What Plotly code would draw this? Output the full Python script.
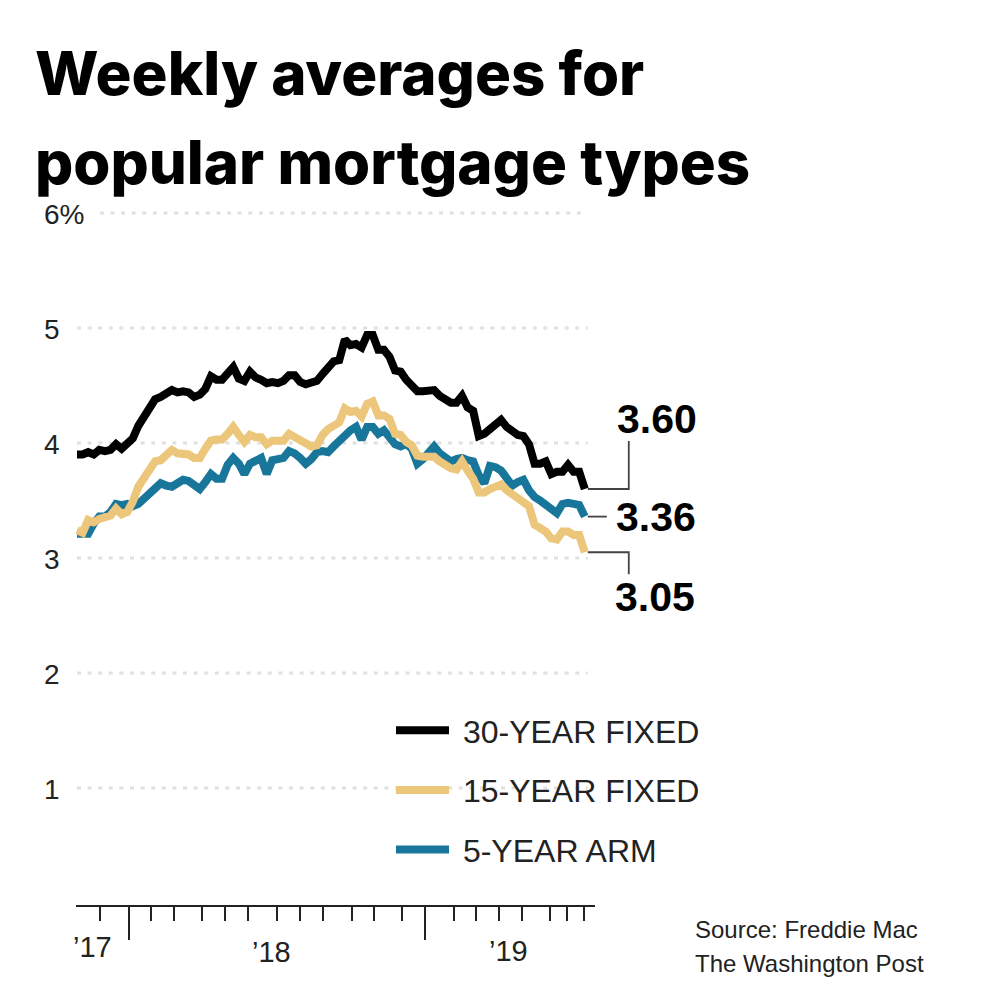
import plotly.graph_objects as go

fixed_30 = [3.90,3.90,3.92,3.90,3.94,3.93,3.94,3.99,3.95,3.99,4.04,4.15,4.22,4.32,4.38,4.40,4.43,4.46,4.44,4.45,4.44,4.40,4.42,4.47,4.58,4.55,4.55,4.61,4.66,4.56,4.54,4.62,4.57,4.55,4.52,4.53,4.52,4.54,4.59,4.59,4.53,4.51,4.52,4.54,4.60,4.65,4.71,4.72,4.90,4.85,4.86,4.83,4.94,4.94,4.81,4.81,4.75,4.63,4.62,4.55,4.51,4.45,4.45,4.45,4.46,4.41,4.37,4.35,4.35,4.41,4.31,4.28,4.06,4.08,4.12,4.17,4.20,4.14,4.10,4.07,4.06,3.99,3.82,3.82,3.84,3.73,3.75,3.75,3.81,3.75,3.75,3.60]
fixed_15 = [3.24,3.22,3.33,3.31,3.34,3.36,3.37,3.43,3.38,3.40,3.49,3.62,3.70,3.79,3.84,3.85,3.89,3.94,3.91,3.91,3.90,3.87,3.87,3.95,4.02,4.03,4.03,4.08,4.14,4.07,4.01,4.07,4.05,4.05,3.99,4.02,4.02,4.02,4.08,4.05,4.02,3.99,3.97,3.98,4.07,4.12,4.16,4.18,4.30,4.27,4.28,4.23,4.34,4.36,4.24,4.24,4.21,4.08,4.07,4.01,3.98,3.89,3.88,3.88,3.88,3.84,3.80,3.78,3.77,3.84,3.76,3.69,3.57,3.57,3.60,3.63,3.64,3.59,3.55,3.52,3.49,3.45,3.29,3.26,3.23,3.17,3.16,3.23,3.23,3.20,3.20,3.05]
arm_5 = [3.21,3.21,3.21,3.30,3.36,3.36,3.40,3.47,3.46,3.47,3.45,3.47,3.52,3.56,3.62,3.65,3.63,3.62,3.65,3.68,3.67,3.63,3.60,3.66,3.73,3.69,3.69,3.81,3.87,3.82,3.73,3.82,3.84,3.87,3.73,3.85,3.86,3.87,3.93,3.91,3.87,3.82,3.86,3.92,3.93,3.92,3.97,4.02,4.07,4.11,4.14,4.03,4.14,4.14,4.08,4.11,4.05,3.99,3.97,3.99,3.95,3.82,3.86,3.92,3.97,3.91,3.87,3.84,3.86,3.87,3.85,3.84,3.72,3.65,3.80,3.79,3.76,3.68,3.63,3.66,3.68,3.59,3.53,3.50,3.47,3.43,3.39,3.47,3.48,3.47,3.46,3.36]
series_names = ["30-YEAR FIXED", "15-YEAR FIXED", "5-YEAR ARM"]
end_labels = ["3.60", "3.36", "3.05"]
y_ticks = [1, 2, 3, 4, 5, 6]
y_tick_labels = ["1", "2", "3", "4", "5", "6%"]
minor_tick_weeks = [0,4.1,13.3,17.4,22.4,26.5,30.6,35.8,40,44.1,49.3,53.2,58.3,67.6,71.5,75.6,79.7,84.8,87.8,90.9]
major_tick_weeks = [9.3,62.4]
year_labels = ["’17", "’18", "’19"]
year_label_weeks = [2.7, 34.8, 77.3]
title_lines = ["Weekly averages for", "popular mortgage types"]
source_lines = ["Source: Freddie Mac", "The Washington Post"]

BLACK, GOLD, BLUE = "#000000", "#ecc67a", "#19769b"
TEXT_FONT = "Liberation Sans"
PAGE_INSET = 8
L, R, T, B = 76, 595, 190, 905
X0_PX, PX_PER_WEEK = 77, 5.58
def px(x): return (x - L) / (R - L)
def py(y): return (B - y) / (B - T)

weeks = list(range(len(fixed_30)))
fig = go.Figure()

for v in y_ticks:
    start = 4.1 if v == 6 else 0
    fig.add_trace(go.Scatter(x=[start, weeks[-1] + 0.5], y=[v, v], mode="lines", showlegend=False, hoverinfo="skip",
                             line=dict(color="#e0e0e0", width=3.2, dash="4px,6.6px")))

for name, vals, col, rank in [(series_names[0], fixed_30, BLACK, 1),
                              (series_names[2], arm_5, BLUE, 3),
                              (series_names[1], fixed_15, GOLD, 2)]:
    fig.add_trace(go.Scatter(x=weeks, y=vals, name="\u00a0" + name, mode="lines", legendgroup=name, legendrank=rank,
                             line=dict(color=col, width=8)))

shapes = []
end_x = px(X0_PX + PX_PER_WEEK * weeks[-1])
leaders = [(fixed_30[-1], "M 3 0 H 44 V 48"), (arm_5[-1], "M 3 0 H 22"), (fixed_15[-1], "M 3 0 H 44 V -22")]
for v, path in leaders:
    shapes.append(dict(type="path", xref="paper", yref="y", xsizemode="pixel", ysizemode="pixel",
                       xanchor=end_x, yanchor=v, path=path, line=dict(color="#444444", width=1.8)))

ann = []
for line, (x, y) in zip(title_lines, [(33, 73), (33, 162)]):
    ann.append(dict(text=line, x=px(x), y=py(y), xanchor="left", yanchor="middle", showarrow=False,
                    xref="paper", yref="paper", font=dict(family="Inter", size=60, weight=800, color="#000")))
for txt, (x, y) in zip(end_labels, [(657, 419), (656, 517), (655, 597)]):
    ann.append(dict(text=txt, x=px(x), y=py(y), xanchor="center", yanchor="middle", showarrow=False,
                    xref="paper", yref="paper", font=dict(family=TEXT_FONT, size=41, weight=700, color="#000")))
for txt, w, y in zip(year_labels, year_label_weeks, [947, 952, 951]):
    ann.append(dict(text=txt, x=w, y=py(y), xref="x", yref="paper", xanchor="center", yanchor="middle",
                    showarrow=False, font=dict(family=TEXT_FONT, size=29, color="#222")))
for line, y in zip(source_lines, [929, 963]):
    ann.append(dict(text=line, x=px(693), y=py(y), xanchor="left", yanchor="middle", showarrow=False,
                    xref="paper", yref="paper", font=dict(family=TEXT_FONT, size=24, color="#222")))

fig.update_layout(
    width=1000 - PAGE_INSET, height=1000 - PAGE_INSET, paper_bgcolor="white", plot_bgcolor="white",
    margin=dict(l=L - PAGE_INSET, r=1000 - R, t=T - PAGE_INSET, b=1000 - B, autoexpand=False),
    hovermode=False, shapes=shapes, annotations=ann,
    legend=dict(x=px(391), y=py(703), xanchor="left", yanchor="top", itemwidth=53, tracegroupgap=15,
                font=dict(family=TEXT_FONT, size=32, color="#222"), bgcolor="rgba(0,0,0,0)"),
    xaxis=dict(range=[(L - X0_PX) / PX_PER_WEEK, (R - X0_PX) / PX_PER_WEEK], showgrid=False, zeroline=False,
               showline=True, linecolor="#222", linewidth=2, ticks="outside", ticklen=33, tickwidth=2, tickcolor="#222",
               tickmode="array", tickvals=major_tick_weeks, showticklabels=False,
               minor=dict(tickmode="array", tickvals=minor_tick_weeks, ticks="outside", ticklen=14, tickwidth=2, tickcolor="#222", showgrid=False)),
    yaxis=dict(range=[(903 - B) / 115, (903 - T) / 115], showgrid=False, zeroline=False, showline=False,
               tickmode="array", tickvals=y_ticks, ticktext=y_tick_labels, ticks="",
               ticklabelposition="inside", ticklabelstandoff=-35, ticklabelshift=1,
               tickfont=dict(family=TEXT_FONT, size=28, color="#222")),
)
fig.write_html("out.html")
